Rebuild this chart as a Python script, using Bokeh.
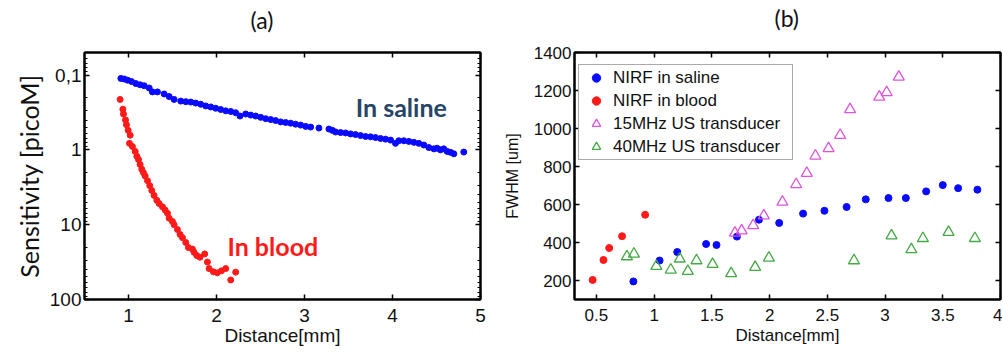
from bokeh.plotting import figure
from bokeh.models import Range1d, FixedTicker, LinearAxis, LogAxis
from bokeh.layouts import row
from bokeh.embed import file_html
from bokeh.resources import INLINE
from bokeh.core.properties import value

# ---------------- Panel (a) data ----------------
saline_dist = [0.913, 0.951, 0.989, 1.034, 1.083, 1.132, 1.178, 1.235, 1.272, 1.329,
               1.405, 1.462, 1.518, 1.594, 1.651, 1.708, 1.764, 1.821, 1.878, 1.935,
               1.991, 2.048, 2.105, 2.162, 2.218, 2.267, 2.332, 2.389, 2.445, 2.502,
               2.559, 2.616, 2.672, 2.729, 2.786, 2.843, 2.899, 2.956, 3.013, 3.070,
               3.164, 3.278, 3.316, 3.353, 3.410, 3.467, 3.524, 3.580, 3.637, 3.694,
               3.751, 3.807, 3.864, 3.921, 3.978, 4.034, 4.072, 4.129, 4.186, 4.243,
               4.299, 4.356, 4.413, 4.470, 4.507, 4.545, 4.583, 4.621, 4.659, 4.697,
               4.810]
saline_sens = [0.111, 0.113, 0.117, 0.122, 0.130, 0.135, 0.139, 0.149, 0.168, 0.168,
               0.179, 0.194, 0.212, 0.223, 0.227, 0.230, 0.237, 0.246, 0.259, 0.267,
               0.278, 0.289, 0.301, 0.307, 0.319, 0.353, 0.332, 0.343, 0.353, 0.368,
               0.383, 0.394, 0.406, 0.423, 0.431, 0.440, 0.454, 0.467, 0.486, 0.496,
               0.511, 0.527, 0.548, 0.577, 0.588, 0.594, 0.612, 0.625, 0.644, 0.663,
               0.670, 0.684, 0.705, 0.719, 0.741, 0.819, 0.756, 0.756, 0.771, 0.794,
               0.819, 0.861, 0.932, 0.970, 0.951, 1.000, 0.970, 1.05, 1.08, 1.13,
               1.07]

blood_dist = [0.905, 0.936, 0.943, 0.966, 0.977, 0.996, 1.019, 1.011, 1.045, 1.076,
              1.095, 1.114, 1.132, 1.151, 1.170, 1.189, 1.216, 1.242, 1.265, 1.291,
              1.322, 1.348, 1.386, 1.416, 1.443, 1.462, 1.499, 1.518, 1.556, 1.586,
              1.613, 1.651, 1.681, 1.726, 1.745, 1.776, 1.813, 1.866, 1.897, 1.916,
              1.965, 2.010, 2.056, 2.105, 2.162, 2.218]
blood_sens = [0.212, 0.286, 0.332, 0.398, 0.462, 0.548, 0.637, 0.819, 0.905, 1.05,
              1.22, 1.35, 1.57, 1.82, 2.02, 2.23, 2.59, 3.01, 3.50, 4.06,
              4.72, 5.22, 5.77, 6.37, 7.05, 8.18, 9.05, 10.0, 11.6, 13.5,
              14.9, 17.3, 20.2, 21.2, 23.4, 25.9, 27.2, 24.6, 31.6, 38.6,
              42.7, 44.0, 41.4, 38.6, 54.8, 43.1]

a_x_ticks = [1, 2, 3, 4, 5]
a_y_ticks = [0.1, 1, 10, 100]
a_y_tick_labels = ["0,1", "1", "10", "100"]

# ---------------- Panel (b) data ----------------
nirf_saline_x = [0.82, 1.047, 1.20, 1.45, 1.54, 1.717, 1.908, 2.083, 2.29, 2.475,
                 2.667, 2.833, 3.03, 3.18, 3.356, 3.50, 3.633, 3.80]
nirf_saline_y = [195, 305, 350, 392, 387, 431, 520, 503, 552, 567,
                 587, 627, 634, 634, 669, 702, 686, 678]
nirf_blood_x = [0.467, 0.561, 0.611, 0.722, 0.922]
nirf_blood_y = [203, 308, 371, 433, 546]
us15_x = [1.70, 1.758, 1.858, 1.95, 2.111, 2.23, 2.322, 2.397, 2.511, 2.611,
          2.697, 2.95, 3.014, 3.119]
us15_y = [450, 462, 490, 541, 613, 706, 765, 856, 895, 965,
          1100, 1166, 1190, 1271]
us40_x = [0.764, 0.825, 1.019, 1.144, 1.222, 1.292, 1.367, 1.506, 1.667, 1.875,
          1.994, 2.731, 3.056, 3.228, 3.328, 3.55, 3.778]
us40_y = [326, 340, 275, 256, 314, 249, 305, 286, 237, 270,
          319, 305, 436, 363, 422, 454, 422]

b_x_ticks = [0.5, 1, 1.5, 2, 2.5, 3, 3.5, 4]
b_y_ticks = [200, 400, 600, 800, 1000, 1200, 1400]

BLUE = "#0a0aff"
RED = "#ff1a1a"
MAGENTA = "#dc55dc"
GREEN = "#44a944"


def style_axis(ax, size, font="Liberation Sans"):
    ax.axis_line_color = "black"
    ax.axis_line_width = 2
    ax.major_tick_in = 5
    ax.major_tick_out = 0
    ax.minor_tick_in = 3
    ax.minor_tick_out = 0
    ax.major_tick_line_color = "black"
    ax.major_tick_line_width = 1.5
    ax.minor_tick_line_color = "black"
    ax.major_label_text_font = font
    ax.major_label_text_font_size = size
    ax.major_label_text_color = "#111111"
    ax.axis_label_text_font_style = "normal"
    ax.axis_label_text_color = "#111111"


def mirror_axis(ax):
    style_axis(ax, "1px")
    ax.major_label_text_color = None
    ax.major_label_standoff = 0


def top_spacer(ax, size):
    # blank (white) axis label on the mirrored top axis: lifts the title
    ax.axis_label = " "
    ax.axis_label_text_font_size = size
    ax.axis_label_text_color = "white"
    ax.axis_label_standoff = 0


def style_title(p, text, offset, standoff):
    p.title.text = text
    p.title.align = "left"
    p.title.offset = offset
    p.title.standoff = standoff
    p.title.text_font = "Lato"
    p.title.text_font_size = "23px"
    p.title.text_font_style = "normal"
    p.title.text_color = "#111111"


# ---------------- Figure (a) ----------------
pa = figure(width=500, height=352, x_range=Range1d(0.5, 5.0), y_range=Range1d(100, 0.05),
            y_axis_type="log", output_backend="svg", toolbar_location=None,
            min_border_left=84, min_border_right=20, min_border_top=47, min_border_bottom=52)
style_title(pa, "(a)", 166, 3)
pa.grid.visible = False
pa.outline_line_color = "black"
pa.outline_line_width = 2
pa.background_fill_color = "white"
pa.border_fill_color = "white"

minor_a = []
for base in [0.01, 0.1, 1, 10]:
    for k in range(2, 10):
        v = base * k
        if 0.05 <= v <= 100:
            minor_a.append(round(v, 4))

pa.xaxis.ticker = FixedTicker(ticks=a_x_ticks, minor_ticks=[])
pa.yaxis.ticker = FixedTicker(ticks=a_y_ticks, minor_ticks=minor_a)
pa.yaxis.major_label_overrides = {t: l for t, l in zip(a_y_ticks, a_y_tick_labels)}
style_axis(pa.xaxis[0], "19px")
style_axis(pa.yaxis[0], "19px")
pa.xaxis.axis_label = "Distance[mm]"
pa.xaxis.axis_label_text_font = "Liberation Sans"
pa.xaxis.axis_label_text_font_size = "19px"
pa.xaxis.axis_label_standoff = 0
pa.xaxis.major_label_standoff = 9
pa.yaxis.axis_label = "Sensitivity [picoM]"
pa.yaxis.axis_label_text_font = "Lato"
pa.yaxis.axis_label_text_font_size = "25px"
pa.yaxis.axis_label_standoff = 3
pa.yaxis.major_label_standoff = 3

ra = LogAxis(ticker=FixedTicker(ticks=a_y_ticks, minor_ticks=minor_a))
mirror_axis(ra)
pa.add_layout(ra, "right")
ta = LinearAxis(ticker=FixedTicker(ticks=a_x_ticks, minor_ticks=[]))
mirror_axis(ta)
top_spacer(ta, "12px")
pa.add_layout(ta, "above")

pa.scatter(saline_dist, saline_sens, size=6, color=BLUE, line_color=BLUE)
pa.scatter(blood_dist, blood_sens, size=6, color=RED, line_color=RED)

pa.text(x=[4.10], y=[0.267], text=["In saline"], text_align="center",
        text_baseline="alphabetic", text_font=value("Lato"), text_font_size="25px",
        text_font_style="bold", text_color="#264667")
pa.text(x=[2.64], y=[19.2], text=["In blood"], text_align="center",
        text_baseline="alphabetic", text_font=value("Lato"), text_font_size="25px",
        text_font_style="bold", text_color="#ff1a1a")

# ---------------- Figure (b) ----------------
pb = figure(width=502, height=352, x_range=Range1d(0.31, 4.0), y_range=Range1d(100, 1400),
            output_backend="svg", toolbar_location=None,
            min_border_left=57, min_border_right=2, min_border_top=51, min_border_bottom=53)
style_title(pb, "(b)", 200, 2)
pb.grid.visible = False
pb.outline_line_color = "black"
pb.outline_line_width = 2
pb.background_fill_color = "white"
pb.border_fill_color = "white"

pb.xaxis.ticker = FixedTicker(ticks=b_x_ticks, minor_ticks=[])
pb.yaxis.ticker = FixedTicker(ticks=b_y_ticks, minor_ticks=[])
style_axis(pb.xaxis[0], "17px")
style_axis(pb.yaxis[0], "17px")
pb.xaxis.axis_label = "Distance[mm]"
pb.xaxis.axis_label_text_font = "Liberation Sans"
pb.xaxis.axis_label_text_font_size = "17px"
pb.xaxis.axis_label_standoff = 2
pb.xaxis.major_label_standoff = 9
pb.yaxis.axis_label = "FWHM [um]"
pb.yaxis.axis_label_text_font = "Liberation Sans"
pb.yaxis.axis_label_text_font_size = "16px"
pb.yaxis.axis_label_standoff = 10
pb.yaxis.major_label_standoff = 3

rb = LinearAxis(ticker=FixedTicker(ticks=b_y_ticks, minor_ticks=[]))
mirror_axis(rb)
pb.add_layout(rb, "right")
tb = LinearAxis(ticker=FixedTicker(ticks=b_x_ticks, minor_ticks=[]))
mirror_axis(tb)
top_spacer(tb, "16px")
pb.add_layout(tb, "above")

pb.scatter(nirf_saline_x, nirf_saline_y, size=7, color=BLUE, line_color=BLUE,
           legend_label="NIRF in saline")
pb.scatter(nirf_blood_x, nirf_blood_y, size=7, color=RED, line_color=RED,
           legend_label="NIRF in blood")
pb.scatter(us15_x, us15_y, marker="triangle", size=11, fill_alpha=0,
           line_color=MAGENTA, line_width=1.3, legend_label="15MHz US transducer")
pb.scatter(us40_x, us40_y, marker="triangle", size=11, fill_alpha=0,
           line_color=GREEN, line_width=1.3, legend_label="40MHz US transducer")

lg = pb.legend[0]
lg.location = (4, 139)
lg.label_text_font = "Liberation Sans"
lg.label_text_font_size = "17px"
lg.label_text_color = "#111111"
lg.label_height = 21
lg.glyph_height = 21
lg.glyph_width = 30
lg.label_width = 177
lg.spacing = 2
lg.padding = 2
lg.label_standoff = 2
lg.border_line_color = "#555555"
lg.border_line_width = 1.5

layout = row(pa, pb)
open("out.html", "w").write(file_html(layout, INLINE))
